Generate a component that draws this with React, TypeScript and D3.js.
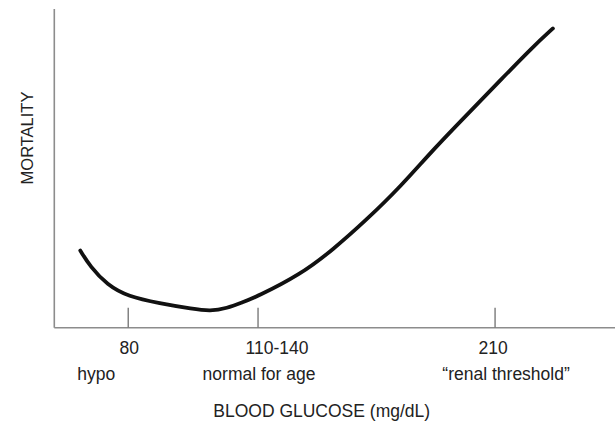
import React from "react";
import * as d3 from "d3";

const glucose = [63, 66.5, 72.5, 80, 91, 103, 109, 115, 120.5, 125.5, 141, 152.5, 164.5, 176.5, 188, 200, 212, 223.5, 230.5];
const mortality = [24.3, 19.3, 13.5, 9.8, 7.7, 5.9, 5.2, 6.1, 8.0, 9.7, 16.7, 24.5, 34, 44.4, 56, 67, 78, 88.5, 94.2];
const tickValues = [80, 126, 210];
const tickLabels = ["80", "110-140", "210"];
const subLabels = ["hypo", "normal for age", "\u201Crenal threshold\u201D"];
const xTitle = "BLOOD GLUCOSE (mg/dL)";
const yTitle = "MORTALITY";

const W = 615;
const H = 423;
const left = 54.3;
const right = 615;
const top = 9;
const bottom = 327.7;

export default function App() {
  const x = d3.scaleLinear().domain([53.8, 252.5]).range([left, right]);
  const y = d3.scaleLinear().domain([0, 100]).range([bottom, top + 1]);
  const pts = glucose.map((g, i) => [g, mortality[i]] as [number, number]);
  const line = d3
    .line<[number, number]>()
    .x((d) => x(d[0]))
    .y((d) => y(d[1]))
    .curve(d3.curveBasis);

  const labelDx = [1, 19, -2];
  const subDx = [-32, 1, 11];
  const font = "'Liberation Sans', Arial, Helvetica, sans-serif";

  return (
    <svg
      width={W}
      height={H}
      style={{ position: "absolute", left: 0, top: 0, background: "#fff" }}
    >
      <rect x={0} y={0} width={W} height={H} fill="#fff" />
      <line x1={left} x2={left} y1={top} y2={bottom} stroke="#8c8c8c" strokeWidth={1.6} />
      <line x1={left} x2={right} y1={bottom} y2={bottom} stroke="#8c8c8c" strokeWidth={1.6} />
      {tickValues.map((t, i) => (
        <line
          key={"t" + i}
          x1={x(t)}
          x2={x(t)}
          y1={bottom - 20}
          y2={bottom}
          stroke="#7a7a7a"
          strokeWidth={1.4}
        />
      ))}
      <path d={line(pts) || ""} fill="none" stroke="#111" strokeWidth={3.8} strokeLinecap="round" strokeLinejoin="round" />
      <g fontFamily={font} fill="#222" fontSize={17.5} textAnchor="middle">
        {tickLabels.map((l, i) => (
          <text key={"l" + i} x={x(tickValues[i]) + labelDx[i]} y={354}>
            {l}
          </text>
        ))}
        {subLabels.map((l, i) => (
          <text key={"s" + i} x={x(tickValues[i]) + subDx[i]} y={380}>
            {l}
          </text>
        ))}
        <text x={321.7} y={417}>
          {xTitle}
        </text>
      </g>
      <text
        fontFamily={font}
        fill="#222"
        fontSize={16.5}
        textAnchor="middle"
        transform="translate(33,138) rotate(-90)"
      >
        {yTitle}
      </text>
    </svg>
  );
}
